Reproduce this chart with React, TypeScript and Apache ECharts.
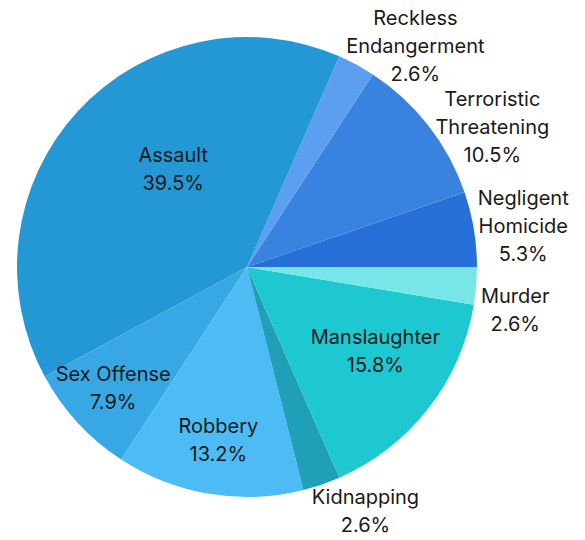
import React, { useEffect, useRef } from "react";
import * as echarts from "echarts";

const categories = [
  "Negligent\nHomicide",
  "Terroristic\nThreatening",
  "Reckless\nEndangerment",
  "Assault",
  "Sex Offense",
  "Robbery",
  "Kidnapping",
  "Manslaughter",
  "Murder",
];
const counts = [2, 4, 1, 15, 3, 5, 1, 6, 1];
const colors = [
  "#2670d8",
  "#3a82e0",
  "#5c9ef0",
  "#2498d5",
  "#38a8e4",
  "#4dbcf5",
  "#1fa0b8",
  "#1ec8d0",
  "#78e6e8",
];

// label placement (styling): angle in degrees (counter-clockwise from 3 o'clock), distance as a fraction of the radius
const labelPlacement = [
  { angle: 8.4, dist: 1.214 },
  { angle: 29.7, dist: 1.228 },
  { angle: 52.7, dist: 1.208 },
  { angle: 127.0, dist: 0.533 },
  { angle: 222.1, dist: 0.784 },
  { angle: 260.6, dist: 0.763 },
  { angle: 295.9, dist: 1.179 },
  { angle: 326.8, dist: 0.667 },
  { angle: 350.9, dist: 1.181 },
];

const CX = 247;
const CY = 267;
const R = 230;

export default function App() {
  const ref = useRef<HTMLDivElement>(null);
  useEffect(() => {
    document.body.style.margin = "0";
    const chart = echarts.init(ref.current!, null, { renderer: "svg" });
    chart.setOption({
      animation: false,
      series: [
        {
          type: "pie",
          center: [CX, CY],
          radius: [0, R],
          startAngle: 0,
          clockwise: false,
          percentPrecision: 1,
          avoidLabelOverlap: false,
          data: categories.map((c, i) => ({
            name: c,
            value: counts[i],
            itemStyle: { color: colors[i] },
          })),
          itemStyle: { borderWidth: 0 },
          label: {
            show: true,
            formatter: "{b}\n{d}%",
            fontFamily: "Inter, 'Noto Sans', sans-serif",
            fontSize: 20,
            lineHeight: 28,
            color: "#1a1a1a",
            align: "center",
          },
          labelLine: { show: false },
          labelLayout: (params: any) => {
            const p = labelPlacement[params.dataIndex];
            const a = (p.angle * Math.PI) / 180;
            return {
              x: CX + p.dist * R * Math.cos(a),
              y: CY - p.dist * R * Math.sin(a),
              align: "center",
              verticalAlign: "middle",
            };
          },
          emphasis: { disabled: true },
        },
      ],
    });
    return () => chart.dispose();
  }, []);
  return (
    <div
      ref={ref}
      style={{ position: "absolute", left: 0, top: 0, width: 585, height: 540 }}
    />
  );
}
